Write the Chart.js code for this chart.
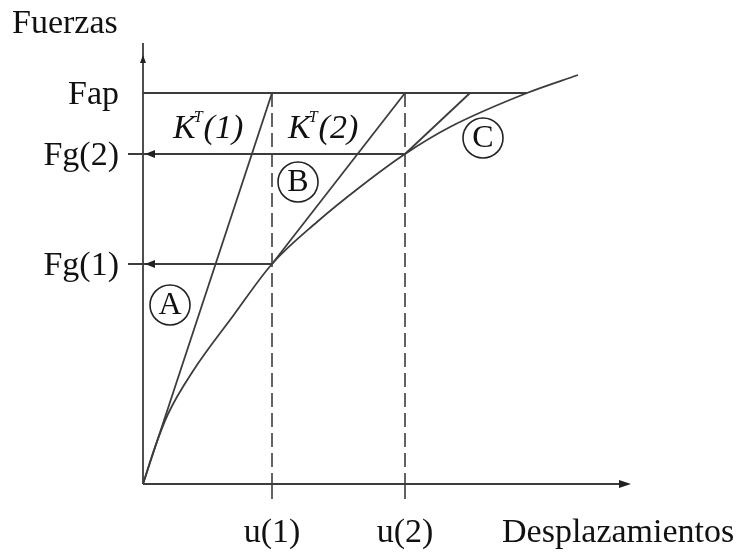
<!DOCTYPE html>
<html>
<head>
<meta charset="utf-8">
<script src="https://cdn.jsdelivr.net/npm/chart.js@4.4.0/dist/chart.umd.min.js"></script>
<style>
  body { margin: 0; background: #fff; }
  canvas { display: block; }
</style>
</head>
<body>
<canvas id="chartNR" width="741" height="554"></canvas>
<script>
// desplazamientos u(1), u(2)
const uVals = [129, 262];
const uLabels = ['u(1)', 'u(2)'];

// fuerzas Fg(1), Fg(2), Fap
const fVals = [220, 330, 391];
const fLabels = ['Fg(1)', 'Fg(2)', 'Fap'];

// curva fuerza-desplazamiento
const curveX = [0, 12, 25, 50, 90, 129, 174, 217, 262, 307, 384, 435];
const curveY = [0, 37, 70, 113, 168, 220, 262, 297, 330, 357, 391, 409];

// rigideces tangentes: punto de partida -> punto donde alcanzan Fap
const tanStartX = [0, 129, 262];
const tanStartY = [0, 220, 330];
const tanEndX = [129, 262, 327];

// extremos de los ejes
const axisXMax = 484;
const axisYMax = 441;

// etiquetas en el grafico
const circleLabels = ['A', 'B', 'C'];
const circleX = [27, 155, 340];
const circleY = [179, 302, 346];
const ktLabels = ['1', '2'];
const ktX = [30, 145];
const ktY = [346, 346];

const LINE = '#3c3c3c';
const TEXT = '#111';
const SERIF = '"Liberation Serif", "Times New Roman", serif';

const Fap = fVals[2];
const fapEndX = curveX[curveY.indexOf(Fap)];

const datasets = [];
const lineDs = (pts, extra) => Object.assign({
    data: pts,
    showLine: true,
    borderColor: LINE,
    borderWidth: 1.8,
    pointRadius: 0,
    fill: false,
    tension: 0
}, extra || {});

// ejes
datasets.push(lineDs([{x: 0, y: 0}, {x: axisXMax, y: 0}]));
datasets.push(lineDs([{x: 0, y: 0}, {x: 0, y: axisYMax}]));

// curva
datasets.push(lineDs(curveX.map((x, i) => ({x: x, y: curveY[i]})), {
    cubicInterpolationMode: 'monotone'
}));

// tangentes
tanStartX.forEach((x, i) => {
    datasets.push(lineDs([{x: x, y: tanStartY[i]}, {x: tanEndX[i], y: Fap}]));
});

// Fap horizontal
datasets.push(lineDs([{x: 0, y: Fap}, {x: fapEndX, y: Fap}]));

// Fg(1), Fg(2) flechas
[0, 1].forEach(i => {
    datasets.push(lineDs([{x: -15, y: fVals[i]}, {x: uVals[i], y: fVals[i]}]));
});

// verticales discontinuas y marcas
uVals.forEach(u => {
    datasets.push(lineDs([{x: u, y: Fap}, {x: u, y: 0}], {borderDash: [14, 6], borderWidth: 1.6}));
    datasets.push(lineDs([{x: u, y: 0}, {x: u, y: -15}], {borderWidth: 1.6}));
});

function arrowHead(ctx, x, y, dir, len, half) {
    ctx.save();
    ctx.translate(x, y);
    ctx.rotate(dir);
    ctx.beginPath();
    ctx.moveTo(0, 0);
    ctx.lineTo(-len, -half);
    ctx.lineTo(-len, half);
    ctx.closePath();
    ctx.fill();
    ctx.restore();
}

const labelsPlugin = {
    id: 'labelsPlugin',
    afterDatasetsDraw(chart) {
        const ctx = chart.ctx;
        const xs = chart.scales.x;
        const ys = chart.scales.y;
        const px = v => xs.getPixelForValue(v);
        const py = v => ys.getPixelForValue(v);

        ctx.save();
        ctx.fillStyle = '#222';
        // flechas de los ejes
        arrowHead(ctx, px(axisXMax) + 4, py(0), 0, 12, 4);
        arrowHead(ctx, px(0), py(axisYMax) + 12, -Math.PI / 2, 8, 3);
        // flechas Fg
        [0, 1].forEach(i => {
            arrowHead(ctx, px(0) + 2, py(fVals[i]), Math.PI, 10, 4);
        });

        ctx.fillStyle = TEXT;
        ctx.font = '34px ' + SERIF;
        ctx.textBaseline = 'alphabetic';

        // titulo del eje Y
        ctx.textAlign = 'left';
        ctx.fillText('Fuerzas', 12, 33);

        // etiquetas de fuerzas
        ctx.textAlign = 'right';
        fLabels.forEach((t, i) => {
            ctx.fillText(t, px(0) - 24, py(fVals[i]) + 11);
        });

        // etiquetas de desplazamientos
        ctx.textAlign = 'center';
        uLabels.forEach((t, i) => {
            ctx.fillText(t, px(uVals[i]), 542);
        });
        ctx.textAlign = 'left';
        ctx.fillText('Desplazamientos', 502, 542);

        // K^T(n)
        ktLabels.forEach((n, i) => {
            let x = px(ktX[i]);
            const y = py(ktY[i]);
            ctx.font = 'italic 34px ' + SERIF;
            ctx.fillText('K', x, y);
            x += ctx.measureText('K').width - 2;
            ctx.font = 'italic 16px ' + SERIF;
            ctx.fillText('T', x, y - 16);
            x += ctx.measureText('T').width + 1;
            ctx.font = 'italic 34px ' + SERIF;
            ctx.fillText('(' + n + ')', x, y);
        });

        // letras en circulo
        ctx.strokeStyle = '#222';
        ctx.lineWidth = 1.6;
        ctx.textAlign = 'center';
        ctx.textBaseline = 'middle';
        ctx.font = '32px ' + SERIF;
        circleLabels.forEach((t, i) => {
            const cx = px(circleX[i]);
            const cy = py(circleY[i]);
            ctx.beginPath();
            ctx.arc(cx, cy, 20, 0, Math.PI * 2);
            ctx.stroke();
            ctx.fillText(t, cx, cy + 1);
        });
        ctx.restore();
    }
};

new Chart(document.getElementById('chartNR').getContext('2d'), {
    type: 'scatter',
    data: {datasets: datasets},
    options: {
        responsive: false,
        animation: false,
        devicePixelRatio: 1,
        layout: {padding: 0},
        plugins: {
            legend: {display: false},
            tooltip: {enabled: false}
        },
        scales: {
            x: {type: 'linear', min: -143, max: 598, display: false},
            y: {type: 'linear', min: -70, max: 484, display: false}
        }
    },
    plugins: [labelsPlugin]
});
</script>
</body>
</html>
